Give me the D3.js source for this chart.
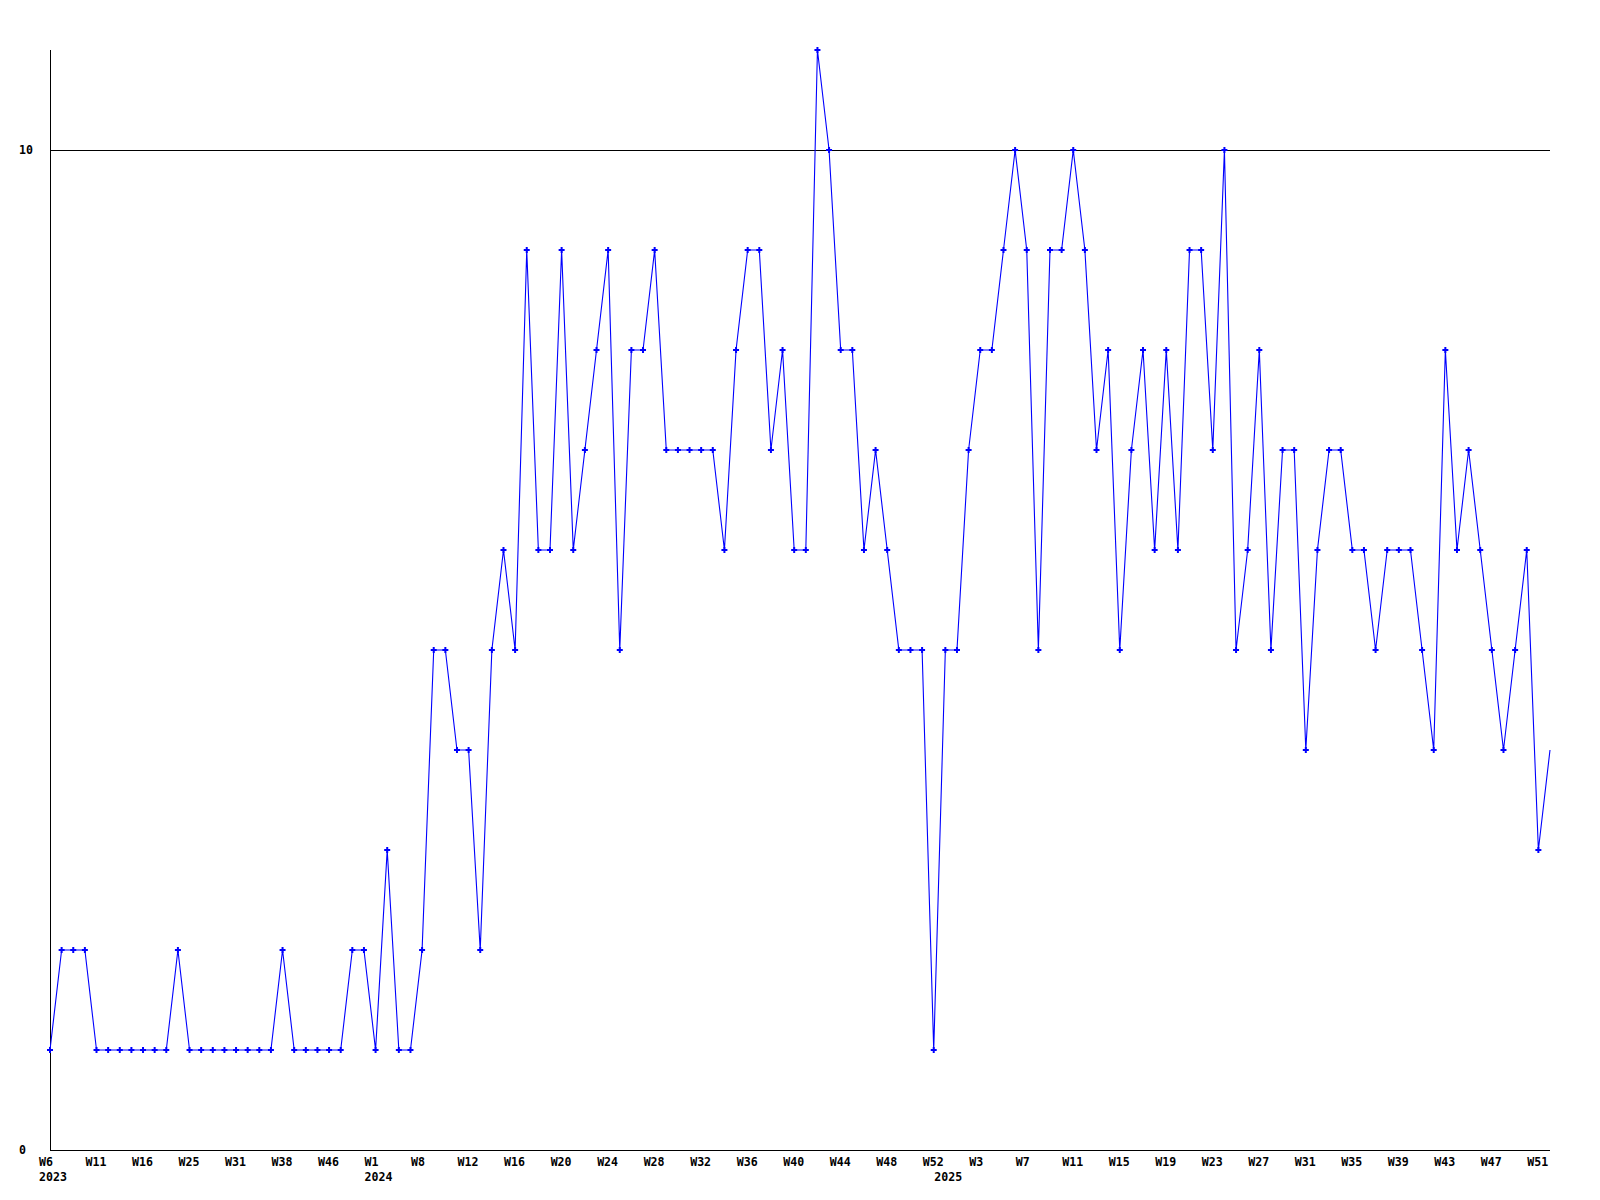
<!DOCTYPE html>
<html>
<head>
<meta charset="utf-8">
<title>weekly count</title>
<script src="https://cdn.jsdelivr.net/npm/d3@7"></script>
<style>
  body { margin: 0; background: #fff; }
  svg { display: block; }
  text { font-family: "DejaVu Sans Mono", "Liberation Mono", monospace; font-weight: bold; font-size: 11.6px; fill: #000; }
</style>
</head>
<body>
<svg id="chart" width="1600" height="1200"></svg>
<script>
// weekly values, one per point
var counts = [1, 2, 2, 2, 1, 1, 1, 1, 1, 1, 1, 2, 1, 1, 1, 1, 1, 1, 1, 1,
              2, 1, 1, 1, 1, 1, 2, 2, 1, 3, 1, 1, 2, 5, 5, 4, 4, 2, 5, 6,
              5, 9, 6, 6, 9, 6, 7, 8, 9, 5, 8, 8, 9, 7, 7, 7, 7, 7, 6, 8,
              9, 9, 7, 8, 6, 6, 11, 10, 8, 8, 6, 7, 6, 5, 5, 5, 1, 5, 5, 7,
              8, 8, 9, 10, 9, 5, 9, 9, 10, 9, 7, 8, 5, 7, 8, 6, 8, 6, 9, 9,
              7, 10, 5, 6, 8, 5, 7, 7, 4, 6, 7, 7, 6, 6, 5, 6, 6, 6, 5, 4,
              8, 6, 7, 6, 5, 4, 5, 6, 3, 4];

// week labels, every 4th point
var weekLabels = ["W6", "W11", "W16", "W25", "W31", "W38", "W46", "W1", "W8", "W12",
                  "W16", "W20", "W24", "W28", "W32", "W36", "W40", "W44", "W48", "W52",
                  "W3", "W7", "W11", "W15", "W19", "W23", "W27", "W31", "W35", "W39",
                  "W43", "W47", "W51"];
var labelStep = 4;

// year labels sit under the first point of each year
var yearNames = ["2023", "2024", "2025"];
var yearStart = [0, 28, 77];

var yTicks = [0, 10];
var yMax = 11;

var svg = d3.select("#chart");
// note: "top" is taken by window.top, so use other names
var plotLeft = 50, plotRight = 1550, plotTop = 50, plotBottom = 1150;
var labelShift = -11; // x labels start a bit left of their point

var x = d3.scaleLinear()
    .domain([0, counts.length - 1])
    .range([plotLeft, plotRight]);

var y = d3.scaleLinear()
    .domain([0, yMax])
    .range([plotBottom, plotTop]);

// grid line(s) above zero
svg.selectAll(".grid")
    .data(yTicks.filter(function(d) { return d > 0; }))
    .enter().append("line")
    .attr("class", "grid")
    .attr("x1", plotLeft).attr("x2", plotRight)
    .attr("y1", function(d) { return Math.round(y(d)) + 0.5; })
    .attr("y2", function(d) { return Math.round(y(d)) + 0.5; })
    .attr("stroke", "#000")
    .attr("shape-rendering", "crispEdges");

// axes lines
svg.append("line")
    .attr("x1", plotLeft + 0.5).attr("x2", plotLeft + 0.5)
    .attr("y1", plotTop).attr("y2", plotBottom)
    .attr("stroke", "#000").attr("stroke-width", 1.2)
    .attr("shape-rendering", "crispEdges");
svg.append("line")
    .attr("x1", plotLeft).attr("x2", plotRight)
    .attr("y1", plotBottom + 0.5).attr("y2", plotBottom + 0.5)
    .attr("stroke", "#000").attr("stroke-width", 1.2)
    .attr("shape-rendering", "crispEdges");

// y labels
svg.selectAll(".ylab")
    .data(yTicks)
    .enter().append("text")
    .attr("class", "ylab")
    .attr("x", 19)
    .attr("y", function(d) { return y(d); })
    .attr("dy", "0.36em")
    .text(function(d) { return d; });

// x labels
svg.selectAll(".xlab")
    .data(weekLabels)
    .enter().append("text")
    .attr("class", "xlab")
    .attr("x", function(d, i) { return x(i * labelStep) + labelShift; })
    .attr("y", 1162)
    .attr("dy", "0.36em")
    .text(function(d) { return d; });

svg.selectAll(".year")
    .data(yearNames)
    .enter().append("text")
    .attr("class", "year")
    .attr("x", function(d, i) { return x(yearStart[i]) + labelShift; })
    .attr("y", 1177)
    .attr("dy", "0.36em")
    .text(function(d) { return d; });

// the series
var line = d3.line()
    .x(function(d, i) { return x(i); })
    .y(function(d) { return y(d); });

svg.append("path")
    .datum(counts)
    .attr("d", line)
    .attr("fill", "none")
    .attr("stroke", "#0000ff")
    .attr("stroke-width", 1.1);

// markers (the last point has none in the original)
var marker = d3.symbol().type(d3.symbolCross).size(20);
svg.selectAll(".pt")
    .data(counts.slice(0, counts.length - 1))
    .enter().append("path")
    .attr("class", "pt")
    .attr("d", marker)
    .attr("transform", function(d, i) { return "translate(" + x(i) + "," + y(d) + ")"; })
    .attr("fill", "#0000ff");
</script>
</body>
</html>
